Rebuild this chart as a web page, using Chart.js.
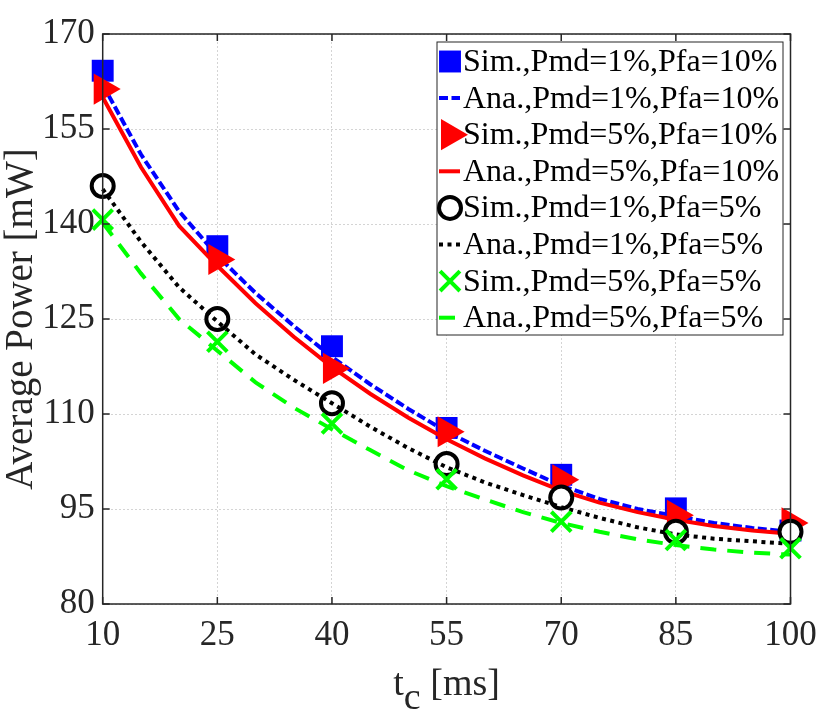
<!DOCTYPE html>
<html>
<head>
<meta charset="utf-8">
<script src="https://cdn.jsdelivr.net/npm/chart.js@4.4.0/dist/chart.umd.min.js"></script>
<style>
  html, body { margin: 0; padding: 0; background: #fff; }
  #wrap { width: 830px; height: 723px; }
</style>
</head>
<body>
<div id="wrap"><canvas id="power-chart" width="830" height="723"></canvas></div>
<script>
// simulated points (markers)
const SIM_TC = [10, 25, 40, 55, 70, 85, 100];
const SIM_PMD1_PFA10 = [164.2, 136.5, 120.7, 107.8, 100.4, 95.1, 91.6];
const SIM_PMD5_PFA10 = [161.3, 134.4, 117.2, 107.2, 99.6, 94.0, 92.8];
const SIM_PMD1_PFA5 = [146.0, 125.0, 111.7, 102.1, 96.8, 91.4, 91.4];
const SIM_PMD5_PFA5 = [140.7, 121.4, 108.5, 99.7, 93.0, 90.1, 88.8];

// analytical curves, every 5 ms
const ANA_TC = [10, 15, 20, 25, 30, 35, 40, 45, 50, 55, 60, 65, 70, 75, 80, 85, 90, 95, 100];
const ANA_PMD1_PFA10 = [162.0, 151.0, 142.0, 135.0, 129.1, 123.9, 119.0, 114.7, 110.8, 107.2, 104.2, 101.4, 98.7, 96.6, 95.0, 93.9, 92.8, 92.0, 91.4];
const ANA_PMD5_PFA10 = [160.0, 149.0, 139.7, 133.4, 127.5, 122.2, 117.4, 113.2, 109.4, 106.0, 103.0, 100.3, 97.9, 96.0, 94.5, 93.3, 92.3, 91.6, 91.1];
const ANA_PMD1_PFA5 = [145.5, 137.2, 130.0, 124.6, 119.4, 115.4, 111.7, 108.0, 104.6, 101.6, 99.2, 97.2, 95.3, 93.6, 92.1, 91.0, 90.3, 89.9, 89.5];
const ANA_PMD5_PFA5 = [140.2, 132.2, 125.0, 120.0, 115.0, 111.0, 107.6, 104.3, 101.1, 98.6, 96.5, 94.5, 92.8, 91.4, 90.2, 89.3, 88.6, 88.1, 87.8];

const X_TICKS = [10, 25, 40, 55, 70, 85, 100];
const Y_TICKS = [80, 95, 110, 125, 140, 155, 170];
const LABELS = [
  'Sim.,Pmd=1%,Pfa=10%',
  'Ana.,Pmd=1%,Pfa=10%',
  'Sim.,Pmd=5%,Pfa=10%',
  'Ana.,Pmd=5%,Pfa=10%',
  'Sim.,Pmd=1%,Pfa=5%',
  'Ana.,Pmd=1%,Pfa=5%',
  'Sim.,Pmd=5%,Pfa=5%',
  'Ana.,Pmd=5%,Pfa=5%',
];

const FONT = "'Liberation Serif', 'Times New Roman', serif";
const AXIS_COLOR = '#262626';

const toPoints = (xs, ys) => xs.map((x, i) => ({ x, y: ys[i] }));

function simSet(i, ys, style) {
  return Object.assign({
    label: LABELS[i],
    data: toPoints(SIM_TC, ys),
    showLine: false,
    clip: false,
    order: 10 - i,
  }, style);
}

function anaSet(i, ys, color, dash) {
  return {
    label: LABELS[i],
    data: toPoints(ANA_TC, ys),
    borderColor: color,
    borderWidth: 4,
    borderDash: dash,
    borderCapStyle: 'butt',
    pointRadius: 0,
    tension: 0,
    fill: false,
    clip: false,
    order: 10 - i,
  };
}

const datasets = [
  simSet(0, SIM_PMD1_PFA10, {
    pointStyle: 'rect', pointRadius: 15.5, pointBorderWidth: 0,
    pointBackgroundColor: '#0000ff', pointBorderColor: '#0000ff',
  }),
  anaSet(1, ANA_PMD1_PFA10, '#0000ff', [9, 3.5]),
  simSet(2, SIM_PMD5_PFA10, {
    pointStyle: 'triangle', pointRotation: 90, pointRadius: 18, pointBorderWidth: 0,
    pointBackgroundColor: '#ff0000', pointBorderColor: '#ff0000',
  }),
  anaSet(3, ANA_PMD5_PFA10, '#ff0000', []),
  simSet(4, SIM_PMD1_PFA5, {
    pointStyle: 'circle', pointRadius: 11, pointBorderWidth: 4,
    pointBackgroundColor: '#ffffff', pointBorderColor: '#000000',
  }),
  anaSet(5, ANA_PMD1_PFA5, '#000000', [4, 4.5]),
  simSet(6, SIM_PMD5_PFA5, {
    pointStyle: 'crossRot', pointRadius: 14, pointBorderWidth: 4,
    pointBackgroundColor: '#00ff00', pointBorderColor: '#00ff00',
  }),
  anaSet(7, ANA_PMD5_PFA5, '#00ff00', [16, 11]),
];

// box round the axes with inward ticks on all four sides
const frame = {
  id: 'frame',
  afterDatasetsDraw(chart) {
    const { ctx, chartArea: a, scales } = chart;
    ctx.save();
    ctx.strokeStyle = AXIS_COLOR;
    ctx.lineWidth = 1.5;
    ctx.setLineDash([]);
    ctx.strokeRect(a.left, a.top, a.right - a.left, a.bottom - a.top);
    ctx.beginPath();
    X_TICKS.forEach(v => {
      const px = scales.x.getPixelForValue(v);
      ctx.moveTo(px, a.bottom); ctx.lineTo(px, a.bottom - 7);
      ctx.moveTo(px, a.top); ctx.lineTo(px, a.top + 7);
    });
    Y_TICKS.forEach(v => {
      const py = scales.y.getPixelForValue(v);
      ctx.moveTo(a.left, py); ctx.lineTo(a.left + 7, py);
      ctx.moveTo(a.right, py); ctx.lineTo(a.right - 7, py);
    });
    ctx.stroke();
    ctx.restore();
  },
};

// axis titles (x title needs a subscript)
const titles = {
  id: 'titles',
  afterDraw(chart) {
    const { ctx, chartArea: a } = chart;
    ctx.save();
    ctx.fillStyle = AXIS_COLOR;
    ctx.font = '39px ' + FONT;
    ctx.textAlign = 'center';
    ctx.textBaseline = 'middle';
    ctx.translate(22, (a.top + a.bottom) / 2);
    ctx.rotate(-Math.PI / 2);
    ctx.fillText('Average Power [mW]', 0, 0);
    ctx.restore();

    ctx.save();
    ctx.fillStyle = AXIS_COLOR;
    ctx.font = '38px ' + FONT;
    ctx.textBaseline = 'alphabetic';
    ctx.textAlign = 'left';
    const wT = ctx.measureText('t').width;
    const wC = ctx.measureText('c').width;
    const wRest = ctx.measureText(' [ms]').width;
    let x = (a.left + a.right) / 2 - (wT + wC + wRest) / 2;
    const base = 695;
    ctx.fillText('t', x, base);
    ctx.fillText('c', x + wT, base + 14);
    ctx.fillText(' [ms]', x + wT + wC, base);
    ctx.restore();
  },
};

// MATLAB-style legend box inside the axes
const boxLegend = {
  id: 'boxLegend',
  afterDraw(chart) {
    const { ctx } = chart;
    const left = 437, top = 42, right = 783, bottom = 335;
    const rowH = 36.6, firstRow = 61.5;
    ctx.save();
    ctx.fillStyle = '#ffffff';
    ctx.fillRect(left, top, right - left, bottom - top);
    ctx.strokeStyle = AXIS_COLOR;
    ctx.lineWidth = 1;
    ctx.strokeRect(left, top, right - left, bottom - top);

    chart.data.datasets.forEach((ds, i) => {
      const y = firstRow + i * rowH;
      const mx = 450;
      ctx.save();
      if (ds.showLine === false) {
        ctx.fillStyle = ds.pointBackgroundColor;
        ctx.strokeStyle = ds.pointBorderColor;
        ctx.lineWidth = ds.pointBorderWidth;
        ctx.setLineDash([]);
        Chart.helpers.drawPoint(ctx, {
          pointStyle: ds.pointStyle,
          rotation: ds.pointRotation || 0,
          radius: ds.pointRadius,
          borderWidth: ds.pointBorderWidth,
        }, mx, y);
      } else {
        ctx.strokeStyle = ds.borderColor;
        ctx.lineWidth = ds.borderWidth;
        ctx.lineCap = 'butt';
        ctx.setLineDash(ds.borderDash || []);
        ctx.beginPath();
        ctx.moveTo(439, y);
        ctx.lineTo(460, y);
        ctx.stroke();
      }
      ctx.restore();
      ctx.fillStyle = '#000000';
      ctx.font = '32px ' + FONT;
      ctx.textAlign = 'left';
      ctx.textBaseline = 'middle';
      ctx.fillText(ds.label, 463, y + 1);
    });
    ctx.restore();
  },
};

new Chart('power-chart', {
  type: 'line',
  data: { datasets },
  options: {
    responsive: false,
    animation: false,
    events: [],
    layout: { padding: { left: 0, right: 39.5, top: 34, bottom: 0 } },
    plugins: {
      legend: { display: false },
      tooltip: { enabled: false },
    },
    scales: {
      x: {
        type: 'linear',
        min: 10,
        max: 100,
        afterBuildTicks: scale => { scale.ticks = X_TICKS.map(value => ({ value })); },
        afterFit: scale => { scale.height = 119; },
        ticks: {
          color: AXIS_COLOR,
          font: { family: FONT, size: 35 },
          padding: 11,
          maxRotation: 0,
          autoSkip: false,
        },
        grid: { color: '#d4d4d4', lineWidth: 1, drawTicks: false },
        border: { display: false, dash: [2, 2] },
      },
      y: {
        type: 'linear',
        min: 80,
        max: 170,
        afterBuildTicks: scale => { scale.ticks = Y_TICKS.map(value => ({ value })); },
        afterFit: scale => { scale.width = 102.7; },
        ticks: {
          color: AXIS_COLOR,
          font: { family: FONT, size: 35 },
          padding: 8,
          autoSkip: false,
        },
        grid: { color: '#d4d4d4', lineWidth: 1, drawTicks: false },
        border: { display: false, dash: [2, 2] },
      },
    },
  },
  plugins: [frame, titles, boxLegend],
});
</script>
</body>
</html>
